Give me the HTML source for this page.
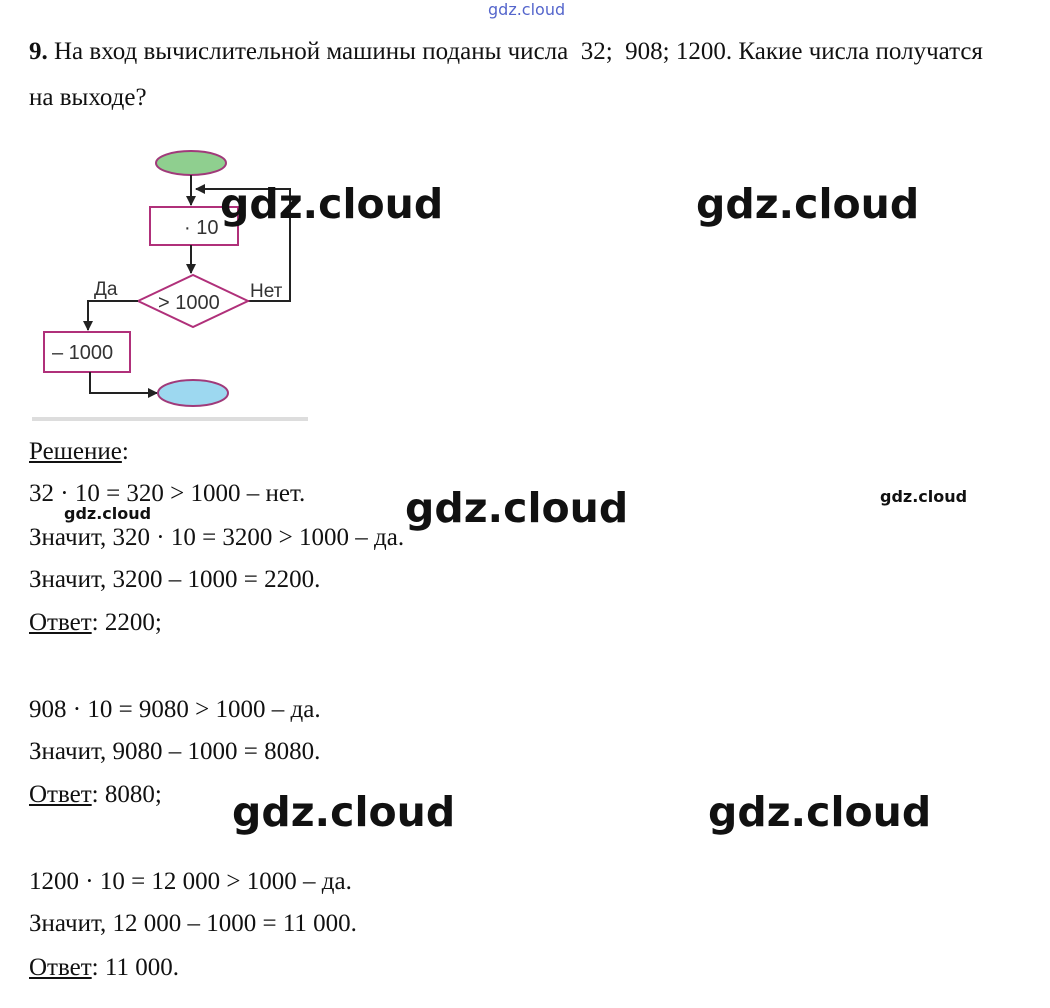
<!DOCTYPE html>
<html><head><meta charset="utf-8"><style>
body{margin:0;width:1050px;height:1008px;background:#fff;position:relative;overflow:hidden;font-family:"Liberation Serif",serif;color:#111}
.t{position:absolute;left:29px;font-size:25px;white-space:nowrap;line-height:1}
.u{text-decoration:underline}
.w{position:absolute;font-family:"DejaVu Sans","Liberation Sans",sans-serif;font-weight:bold;color:#111;white-space:nowrap;line-height:1}
</style></head><body>
<div class="w" style="left:488px;top:2px;font-size:16px;color:#5566cc;font-weight:normal">gdz.cloud</div>
<div class="t" style="top:39px"><b>9.</b> На вход вычислительной машины поданы числа &nbsp;32; &nbsp;908; 1200. Какие числа получатся</div>
<div class="t" style="top:85px">на выходе?</div>
<svg style="position:absolute;left:0;top:0" width="330" height="430">
<defs><marker id="a" markerWidth="10" markerHeight="10" refX="9" refY="5" orient="auto" markerUnits="userSpaceOnUse"><path d="M0,0L10,5L0,10z" fill="#222"/></marker></defs>
<ellipse cx="191" cy="163" rx="35" ry="12" fill="#8fcf8f" stroke="#a03a7a" stroke-width="2"/>
<line x1="191" y1="175" x2="191" y2="205" stroke="#222" stroke-width="2" marker-end="url(#a)"/>
<polyline points="248,301 290,301 290,189 196,189" fill="none" stroke="#222" stroke-width="2" marker-end="url(#a)"/>
<rect x="150" y="207" width="88" height="38" fill="#fff" stroke="#b0307a" stroke-width="2"/>
<text x="184" y="234" font-family="Liberation Sans" font-size="20" fill="#333">· 10</text>
<line x1="191" y1="245" x2="191" y2="273" stroke="#222" stroke-width="2" marker-end="url(#a)"/>
<polygon points="138,301 193,275 248,301 193,327" fill="#fff" stroke="#b0307a" stroke-width="2"/>
<text x="158" y="309" font-family="Liberation Sans" font-size="20" fill="#333">&gt; 1000</text>
<text x="94" y="295" font-family="Liberation Sans" font-size="19" fill="#333">Да</text>
<text x="250" y="297" font-family="Liberation Sans" font-size="19" fill="#333">Нет</text>
<polyline points="138,301 88,301 88,330" fill="none" stroke="#222" stroke-width="2" marker-end="url(#a)"/>
<rect x="44" y="332" width="86" height="40" fill="#fff" stroke="#b0307a" stroke-width="2"/>
<text x="52" y="359" font-family="Liberation Sans" font-size="20" fill="#333">– 1000</text>
<polyline points="90,372 90,393 157,393" fill="none" stroke="#222" stroke-width="2" marker-end="url(#a)"/>
<ellipse cx="193" cy="393" rx="35" ry="13" fill="#9dd8f0" stroke="#a03a7a" stroke-width="2"/>
<rect x="32" y="417" width="276" height="4" fill="#ddd"/>
</svg>
<div class="t" style="top:439px"><span class="u">Решение</span>:</div>
<div class="t" style="top:481px">32 · 10 = 320 &gt; 1000 – нет.</div>
<div class="t" style="top:525px">Значит, 320 · 10 = 3200 &gt; 1000 – да.</div>
<div class="t" style="top:567px">Значит, 3200 – 1000 = 2200.</div>
<div class="t" style="top:610px"><span class="u">Ответ</span>: 2200;</div>
<div class="t" style="top:697px">908 · 10 = 9080 &gt; 1000 – да.</div>
<div class="t" style="top:739px">Значит, 9080 – 1000 = 8080.</div>
<div class="t" style="top:782px"><span class="u">Ответ</span>: 8080;</div>
<div class="t" style="top:869px">1200 · 10 = 12 000 &gt; 1000 – да.</div>
<div class="t" style="top:911px">Значит, 12 000 – 1000 = 11 000.</div>
<div class="t" style="top:955px"><span class="u">Ответ</span>: 11 000.</div>
<div class="w" style="left:220px;top:184px;font-size:41px">gdz.cloud</div>
<div class="w" style="left:696px;top:184px;font-size:41px">gdz.cloud</div>
<div class="w" style="left:405px;top:488px;font-size:41px">gdz.cloud</div>
<div class="w" style="left:880px;top:489px;font-size:16px">gdz.cloud</div>
<div class="w" style="left:64px;top:506px;font-size:16px">gdz.cloud</div>
<div class="w" style="left:232px;top:792px;font-size:41px">gdz.cloud</div>
<div class="w" style="left:708px;top:792px;font-size:41px">gdz.cloud</div>
</body></html>
